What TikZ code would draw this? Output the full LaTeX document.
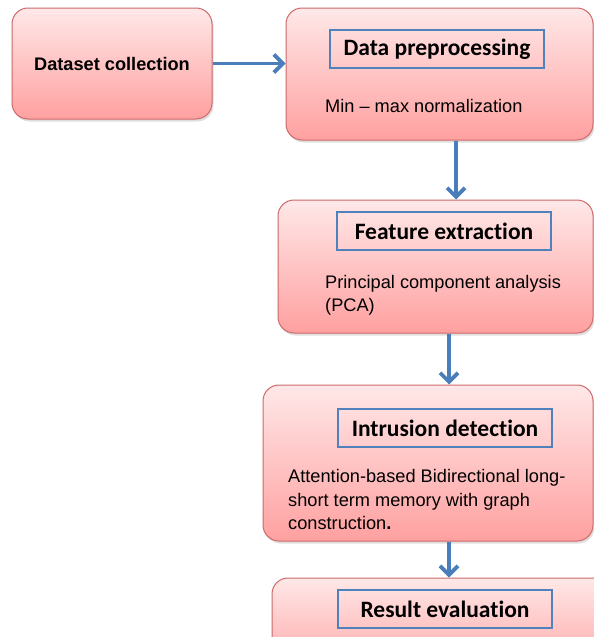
\documentclass[tikz,border=0pt]{standalone}
\usepackage{fontspec}
\setmainfont{Liberation Sans}
\newfontfamily\calfont[Ligatures=NoCommon]{Carlito}
\usetikzlibrary{arrows.meta,shadows}
\definecolor{boxtop}{RGB}{255,232,232}
\definecolor{boxbot}{RGB}{255,160,160}
\definecolor{boxline}{RGB}{205,105,105}
\definecolor{arrblue}{RGB}{74,126,187}
\definecolor{titleblue}{RGB}{79,129,189}
\tikzset{
  stagebox/.style={draw=boxline, line width=1pt, rounded corners=16pt,
    top color=boxtop, bottom color=boxbot, inner sep=0pt,
    drop shadow={shadow xshift=1.5pt, shadow yshift=-2.5pt, opacity=0.25}},
  titlebox/.style={draw=titleblue, line width=1.8pt, inner sep=0pt,
    minimum width=214pt, minimum height=38pt,
    font=\calfont\bfseries\fontsize{23.5}{27}\selectfont},
  bodytext/.style={anchor=west, inner sep=0pt, align=left,
    font=\fontsize{18.2}{23.5}\selectfont},
  arr/.style={draw=arrblue, line width=3.8pt,
    -{Straight Barb[length=9pt,width=18pt,line width=3.8pt]}}
}
\begin{document}
\begin{tikzpicture}[x=1pt,y=-1pt]
\useasboundingbox (0,0) rectangle (594,637);
\clip (0,0) rectangle (594,637);
% boxes
\node[stagebox, minimum width=200pt, minimum height=111pt,
  font=\bfseries\fontsize{18.2}{22}\selectfont] (ds) at (112,63.5) {Dataset collection};
\node[stagebox, minimum width=307pt, minimum height=132pt] (pre) at (439.5,74) {};
\node[stagebox, minimum width=315pt, minimum height=133pt] (fe) at (435.5,266.5) {};
\node[stagebox, minimum width=330pt, minimum height=156pt] (id) at (428,463) {};
\node[stagebox, minimum width=348pt, minimum height=102pt] (res) at (446,629) {};
% titles
\node[titlebox] (pret) at (437,49) {Data preprocessing};
\node[titlebox] (fet) at (444,231) {Feature extraction};
\node[titlebox] (idt) at (445,428) {Intrusion detection};
\node[titlebox] (rest) at (445,609) {Result evaluation};
% body texts
\node[bodytext] (pretxt) at (325,106) {Min -- max normalization};
\node[bodytext] (fetxt) at (325,295.5) {Principal component analysis\\(PCA)};
\node[bodytext] (idtxt) at (288,499.5) {Attention-based Bidirectional long-\\short term memory with graph\\construction\textbf{.}};
% arrows
\draw[arr] (ds.east) -- (pre.west |- ds.east);
\draw[arr] ([xshift=16.5pt]pre.south) -- ([xshift=16.5pt]pre.south |- fe.north);
\draw[arr] ([xshift=13.5pt]fe.south) -- ([xshift=13.5pt]fe.south |- id.north);
\draw[arr] ([xshift=21pt]id.south) -- ([xshift=21pt]id.south |- res.north);
\end{tikzpicture}
\end{document}
